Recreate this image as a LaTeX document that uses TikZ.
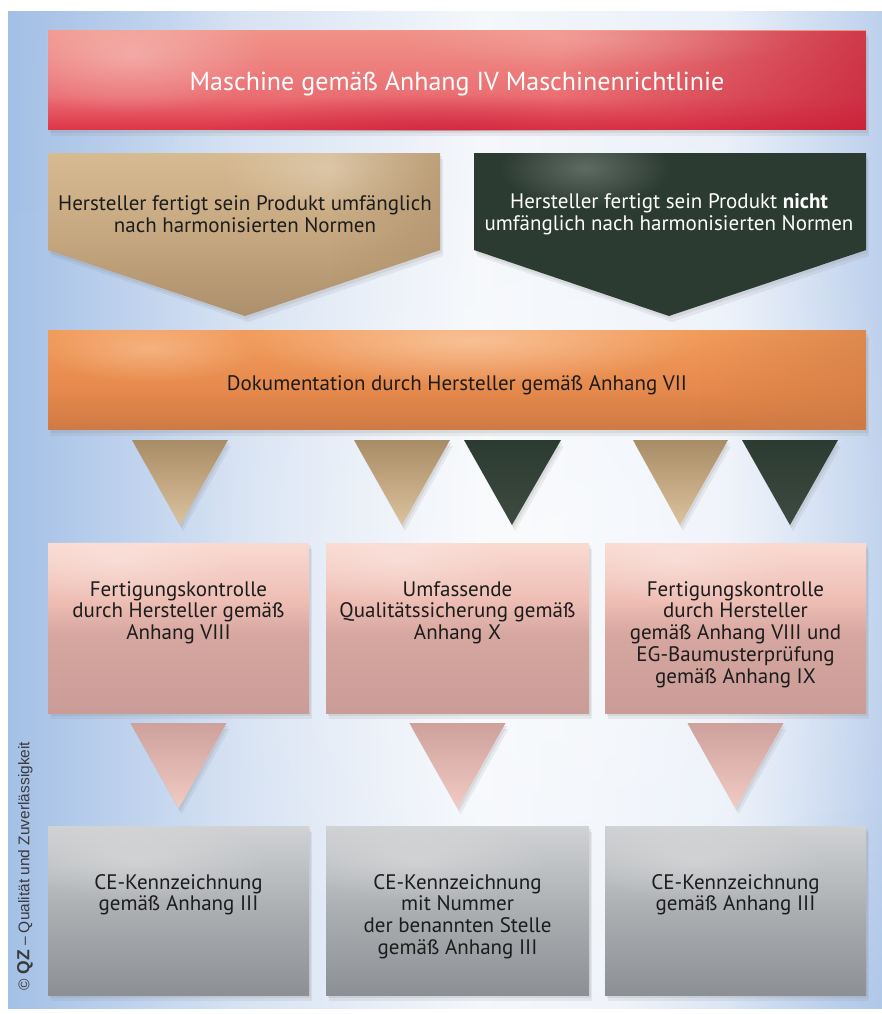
\documentclass[tikz,border=0pt]{standalone}
\usepackage{fontspec}
\setmainfont{PT Sans}
\newfontfamily\credfont{Liberation Sans}
\usetikzlibrary{shadows,fadings}

% palette
\definecolor{ink}{HTML}{1C1C1C}
\definecolor{credgray}{HTML}{3A3A3A}
\definecolor{bgL}{HTML}{A4C0E6}
\definecolor{bgLM}{HTML}{D6E2F3}
\definecolor{bgM}{HTML}{F4F7FB}
\definecolor{bgRM}{HTML}{EAF0F9}
\definecolor{bgR}{HTML}{BDD0EC}
\definecolor{redB}{HTML}{DE3448}
\definecolor{redM}{HTML}{EA6E72}
\definecolor{redT}{HTML}{F09288}
\definecolor{redD}{HTML}{C41C36}
\definecolor{tanB}{HTML}{AC906C}
\definecolor{tanM}{HTML}{C6A880}
\definecolor{tanT}{HTML}{D6BA92}
\definecolor{tanS}{HTML}{A88C66}
\definecolor{tanL}{HTML}{DCC29E}
\definecolor{grnB}{HTML}{2C3B31}
\definecolor{grnH}{HTML}{6C7870}
\definecolor{orB}{HTML}{CE7A44}
\definecolor{orM}{HTML}{E6894C}
\definecolor{orT}{HTML}{F29C5C}
\definecolor{orH}{HTML}{FAC8A0}
\definecolor{pkB}{HTML}{CA9C97}
\definecolor{pkM}{HTML}{D6A7A0}
\definecolor{pkU}{HTML}{EEBEB4}
\definecolor{pkT}{HTML}{F9DAD2}
\definecolor{gyB}{HTML}{8C9094}
\definecolor{gyM}{HTML}{A9ACAF}
\definecolor{gyT}{HTML}{D0D2D4}

% vertical shadings list colours from bottom to top
\pgfdeclarehorizontalshading{backdrop}{100bp}{color(0bp)=(bgL); color(25bp)=(bgL); color(38bp)=(bgLM); color(52bp)=(bgM); color(66bp)=(bgRM); color(75bp)=(bgR); color(100bp)=(bgR)}
\pgfdeclareverticalshading{redbase}{100bp}{color(0bp)=(redB); color(25bp)=(redB); color(42bp)=(redM); color(75bp)=(redT); color(100bp)=(redT)}
\pgfdeclareverticalshading{tanbase}{100bp}{color(0bp)=(tanB); color(25bp)=(tanB); color(50bp)=(tanM); color(75bp)=(tanT); color(100bp)=(tanT)}
\pgfdeclareverticalshading{orbase}{100bp}{color(0bp)=(orB); color(25bp)=(orB); color(45bp)=(orM); color(75bp)=(orT); color(100bp)=(orT)}
\pgfdeclareverticalshading{tansmall}{100bp}{color(0bp)=(tanL); color(25bp)=(tanL); color(75bp)=(tanS); color(100bp)=(tanS)}
\pgfdeclareverticalshading{grnsmall}{100bp}{color(0bp)=(grnB!85!white); color(25bp)=(grnB!92!white); color(75bp)=(grnB); color(100bp)=(grnB)}
\pgfdeclareverticalshading{pinkbox}{100bp}{color(0bp)=(pkB); color(25bp)=(pkB); color(48bp)=(pkM); color(58bp)=(pkU); color(75bp)=(pkT); color(100bp)=(pkT)}
\pgfdeclareverticalshading{pinksmall}{100bp}{color(0bp)=(pkU!80!white); color(25bp)=(pkU!80!white); color(75bp)=(pkB); color(100bp)=(pkB)}
\pgfdeclareverticalshading{graybox}{100bp}{color(0bp)=(gyB); color(25bp)=(gyB); color(48bp)=(gyM); color(75bp)=(gyT); color(100bp)=(gyT)}

\tikzfading[name=toright, left color=transparent!100, right color=transparent!0]
\tikzfading[name=blob, inner color=transparent!0, outer color=transparent!100]

\begin{document}
\begin{tikzpicture}[x=1pt,y=-1pt,
  soft/.style={drop shadow={opacity=.14,shadow xshift=1.5pt,shadow yshift=-3pt},
               drop shadow={opacity=.12,shadow xshift=3pt,shadow yshift=-6pt}},
  panel/.style={rectangle, inner sep=0pt, shade, soft},
  glow/.style={path fading=blob},
  darktxt/.style={text=ink, align=center, inner sep=0pt, font=\fontsize{21}{21.8}\selectfont},
  lighttxt/.style={darktxt, text=white}]
\useasboundingbox (0,0) rectangle (882,1014);

% backdrop
\shade[shading=backdrop] (8,12) rectangle (882,1008);
\begin{scope}
  \clip (8,12) rectangle (882,1008);
  \fill[white, opacity=.55, glow] (560,560) ellipse (360 and 520);
  \fill[bgL, opacity=.5, glow] (882,1008) ellipse (260 and 200);
  \fill[bgL, opacity=.35, glow] (8,12) ellipse (220 and 200);
\end{scope}

% ---------- top: machine class
\node[panel, shading=redbase, minimum width=818, minimum height=99] (machine) at (457,80.5) {};
\begin{scope}
  \clip (machine.north west) rectangle (machine.south east);
  \fill[redD, opacity=.75, path fading=toright] (560,31) rectangle (866,130);
  \fill[white, opacity=.3, glow] (130,55) ellipse (140 and 60);
  \fill[redD, opacity=.45, glow] (440,132) ellipse (230 and 40);
  \fill[white, opacity=.15, glow] (600,40) ellipse (200 and 30);
\end{scope}
\node[lighttxt, font=\fontsize{26}{28}\selectfont] (machinetxt) at (457,84) {Maschine gemäß Anhang IV Maschinenrichtlinie};

% ---------- two manufacturer cases
\path[shade, shading=tanbase, soft] (48,153) -- (440,153) -- (440,250) -- (245,316) -- (48,250) -- cycle;
\begin{scope}
  \clip (48,153) -- (440,153) -- (440,250) -- (245,316) -- (48,250) -- cycle;
  \fill[white, opacity=.22, glow] (330,170) ellipse (110 and 45);
  \fill[tanB, opacity=.6, path fading=toright] (330,153) rectangle (440,320);
\end{scope}
\node[darktxt] (harm) at (245,214) {Hersteller fertigt sein Produkt umfänglich\\nach harmonisierten Normen};

\path[fill=grnB, soft] (474,153) -- (866,153) -- (866,250) -- (669,316) -- (474,250) -- cycle;
\begin{scope}
  \clip (474,153) -- (866,153) -- (866,250) -- (669,316) -- (474,250) -- cycle;
  \fill[grnH, opacity=.8, glow] (585,168) ellipse (85 and 40);
\end{scope}
\node[lighttxt] (noharm) at (669,214) {Hersteller fertigt sein Produkt \textbf{nicht}\\umfänglich nach harmonisierten Normen};

% ---------- documentation
\node[panel, shading=orbase, minimum width=818, minimum height=99] (doc) at (457,380) {};
\begin{scope}
  \clip (doc.north west) rectangle (doc.south east);
  \fill[orH, opacity=.85, glow] (470,340) ellipse (230 and 45);
  \fill[orH, opacity=.55, glow] (150,348) ellipse (110 and 35);
  \fill[orB, opacity=.55, path fading=toright] (700,330) rectangle (866,430);
\end{scope}
\node[darktxt] (doctxt) at (457,385) {Dokumentation durch Hersteller gemäß Anhang VII};

% ---------- first row of pointers
\path[shade, shading=tansmall, soft] (132,440) -- (228,440) -- (180,525) -- cycle;
\path[shade, shading=tansmall, soft] (354,440) -- (450,440) -- (402,525) -- cycle;
\path[shade, shading=grnsmall, soft] (464,440) -- (561,440) -- (512,525) -- cycle;
\path[shade, shading=tansmall, soft] (633,440) -- (728,440) -- (680,525) -- cycle;
\path[shade, shading=grnsmall, soft] (742,440) -- (838,440) -- (790,525) -- cycle;

% ---------- conformity procedures
\node[panel, shading=pinkbox, minimum width=261, minimum height=170] (procA) at (178.5,628) {};
\node[panel, shading=pinkbox, minimum width=263, minimum height=170] (procB) at (457.5,628) {};
\node[panel, shading=pinkbox, minimum width=261, minimum height=170] (procC) at (735.5,628) {};
\foreach \b in {procA,procB,procC}{
  \begin{scope}
    \clip (\b.north west) rectangle (\b.south east);
    \fill[white, opacity=.25, glow] ([xshift=-60pt,yshift=-20pt]\b.north) ellipse (120 and 40);
  \end{scope}
}
\node[darktxt, anchor=north] (procAtxt) at (178.5,581) {Fertigungskontrolle\\durch Hersteller gemäß\\Anhang VIII};
\node[darktxt, anchor=north] (procBtxt) at (457.5,581) {Umfassende\\Qualitätssicherung gemäß\\Anhang X};
\node[darktxt, anchor=north] (procCtxt) at (735.5,581) {Fertigungskontrolle\\durch Hersteller\\gemäß Anhang VIII und\\EG-Baumusterprüfung\\gemäß Anhang IX};

% ---------- second row of pointers
\path[shade, shading=pinksmall, soft] (procA.south) ++(-48,10) -- ++(96,0) -- ++(-48,85) -- cycle;
\path[shade, shading=pinksmall, soft] (procB.south) ++(-48,10) -- ++(96,0) -- ++(-48,85) -- cycle;
\path[shade, shading=pinksmall, soft] (procC.south) ++(-48,10) -- ++(96,0) -- ++(-48,85) -- cycle;

% ---------- CE marking
\node[panel, shading=graybox, minimum width=261, minimum height=169] (ceA) at (178.5,910.5) {};
\node[panel, shading=graybox, minimum width=263, minimum height=169] (ceB) at (457.5,910.5) {};
\node[panel, shading=graybox, minimum width=261, minimum height=169] (ceC) at (735.5,910.5) {};
\foreach \b in {ceA,ceB,ceC}{
  \begin{scope}
    \clip (\b.north west) rectangle (\b.south east);
    \fill[white, opacity=.25, glow] ([xshift=-40pt,yshift=-35pt]\b.north) ellipse (130 and 40);
  \end{scope}
}
\node[darktxt, anchor=north] (ceAtxt) at (178.5,874) {CE-Kennzeichnung\\gemäß Anhang III};
\node[darktxt, anchor=north] (ceBtxt) at (457.5,874) {CE-Kennzeichnung\\mit Nummer\\der benannten Stelle\\gemäß Anhang III};
\node[darktxt, anchor=north] (ceCtxt) at (735.5,874) {CE-Kennzeichnung\\gemäß Anhang III};

% ---------- credit line
\node[rotate=90, text=credgray, inner sep=0pt, font=\credfont\fontsize{15.5}{17}\selectfont] (credit) at (25,866) {© {\fontsize{17.5}{17}\selectfont\bfseries QZ} – Qualität und Zuverlässigkeit};
\end{tikzpicture}
\end{document}
